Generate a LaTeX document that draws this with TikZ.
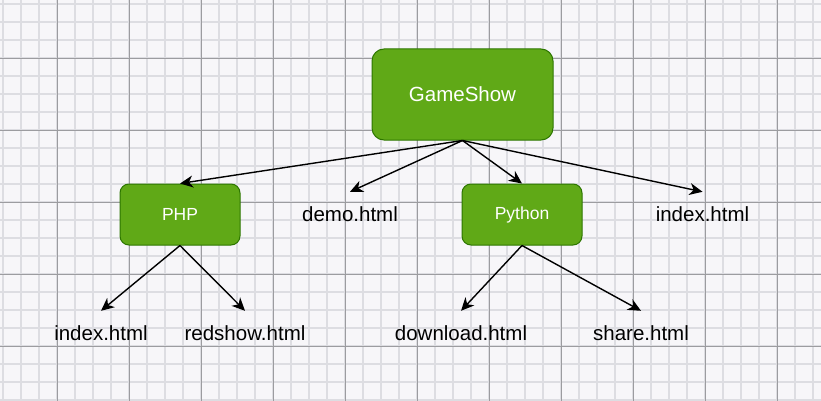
\documentclass[tikz,border=0pt]{standalone}
\usepackage{fontspec}
\setmainfont{Liberation Sans}
\usetikzlibrary{arrows.meta}

\definecolor{boxfill}{HTML}{60A917}
\definecolor{boxline}{HTML}{2D7600}
\definecolor{gridminor}{HTML}{DDDDE2}
\definecolor{gridmajor}{HTML}{9C9CA0}
\definecolor{paper}{HTML}{F7F6F9}

\tikzset{
  folder/.style={draw=boxline, fill=boxfill, rounded corners=9pt, text=white,
    line width=1pt, inner sep=0pt, font={\fontsize{17.5}{21}\selectfont}},
  page/.style={minimum height=44pt, inner sep=0pt, font={\fontsize{20.5}{24}\selectfont}},
  link/.style={-{Stealth[length=13pt,width=12pt,inset=4pt]}, line width=1.4pt},
}

\begin{document}
\begin{tikzpicture}[x=1pt,y=-1pt]
            \fill[paper] (0,0) rectangle (821,401);
            \useasboundingbox (0,0) rectangle (821,401);
            % grid
            \foreach \x in {3,21,...,813}
                \draw[gridminor, line width=1.3pt] (\x,0) -- (\x,401);
            \foreach \y in {4,22,...,400}
                \draw[gridminor, line width=1.3pt] (0,\y) -- (821,\y);
            \foreach \x in {57,129,...,800}
                \draw[gridmajor, line width=0.8pt] (\x,0) -- (\x,401);
            \foreach \y in {58,130,...,400}
                \draw[gridmajor, line width=0.8pt] (0,\y) -- (821,\y);

            % folders
            \node[folder, minimum width=181pt, minimum height=91pt, rounded corners=12pt,
                font={\fontsize{20.5}{24}\selectfont}] (game) at (462.5,94.5) {GameShow};
            \node[folder, minimum width=120pt, minimum height=61pt] (php) at (180,214.5) {PHP};
            \node[folder, minimum width=120pt, minimum height=61pt] (python) at (522,214.5) {Python};

            % pages
            \node[page] (demo) at (350,214) {demo.html};
            \node[page] (index) at (702.5,214) {index.html};
            \node[page] (phpindex) at (101,333) {index.html};
            \node[page] (redshow) at (245,333) {redshow.html};
            \node[page] (download) at (461,333) {download.html};
            \node[page] (share) at (641,333) {share.html};

            % links
            \draw[link] (game.south) -- (php.north);
            \draw[link] (game.south) -- (demo.north);
            \draw[link] (game.south) -- (python.north);
            \draw[link] (game.south) -- (index.north);
            \draw[link] (php.south) -- (phpindex.north);
            \draw[link] (php.south) -- (redshow.north);
            \draw[link] (python.south) -- (download.north);
            \draw[link] (python.south) -- (share.north);
        \end{tikzpicture}
\end{document}
